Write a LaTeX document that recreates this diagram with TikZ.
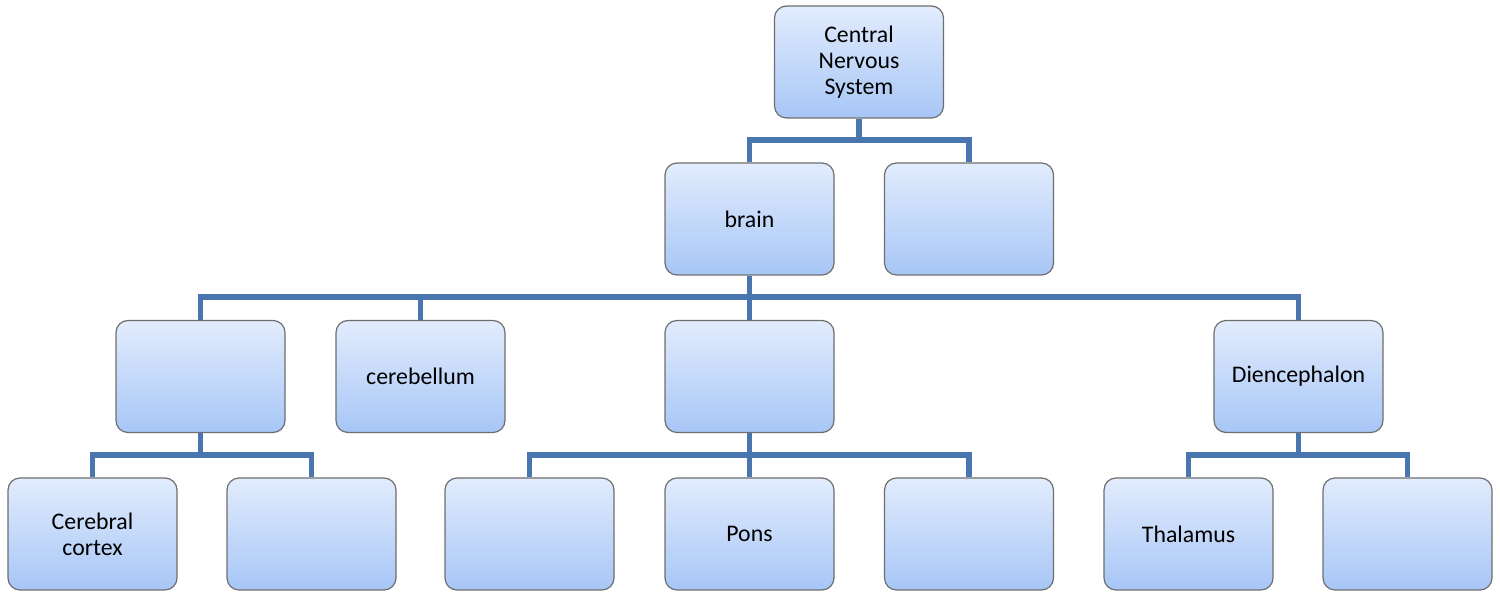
\documentclass[tikz,border=0pt]{standalone}
\usepackage{fontspec}
\setmainfont{Carlito}
\usetikzlibrary{calc}
\definecolor{linec}{HTML}{4A76B0}
\definecolor{boxtop}{HTML}{E2ECFD}
\definecolor{boxbot}{HTML}{A7C6F6}
\definecolor{boxedge}{HTML}{6E6E6E}
\begin{document}
\begin{tikzpicture}[x=0.5pt,y=-0.5pt,
  box/.style={draw=boxedge,line width=0.6pt,rounded corners=6pt,top color=boxtop,bottom color=boxbot,
    minimum width=84.5pt,minimum height=56pt,align=center,font=\fontsize{11.9pt}{13pt}\selectfont,inner sep=2pt},
  conn/.style={draw=linec,line width=2.6pt}]
\useasboundingbox (0,0) rectangle (1500,592);
% nodes
\node[box] (cns) at (859,62) {Central\\Nervous\\System};
\node[box] (brain) at (749.5,219) {brain};
\node[box] (b2) at (969,219) {};
\node[box] (l1) at (200.5,376.5) {};
\node[box] (cereb) at (420.5,376.5) {cerebellum};
\node[box] (l3) at (749.5,376.5) {};
\node[box] (dien) at (1298.5,376.5) {Diencephalon};
\node[box] (cc) at (92.5,534) {Cerebral\\cortex};
\node[box] (c2) at (311.5,534) {};
\node[box] (m1) at (529.5,534) {};
\node[box] (pons) at (749.5,534) {Pons};
\node[box] (m3) at (969,534) {};
\node[box] (thal) at (1188.5,534) {Thalamus};
\node[box] (t2) at (1407.5,534) {};
% connectors
\coordinate (y1) at (0,140);
\coordinate (y2) at (0,297);
\coordinate (y3) at (0,455);
\begin{scope}[on background layer/.try]
\foreach \c in {brain,b2} \draw[conn] (cns.south) -- (cns.south |- y1) -| (\c.north);
\foreach \c in {l1,cereb,l3,dien} \draw[conn] (brain.south) -- (brain.south |- y2) -| (\c.north);
\foreach \c in {cc,c2} \draw[conn] (l1.south) -- (l1.south |- y3) -| (\c.north);
\foreach \c in {m1,pons,m3} \draw[conn] (l3.south) -- (l3.south |- y3) -| (\c.north);
\foreach \c in {thal,t2} \draw[conn] (dien.south) -- (dien.south |- y3) -| (\c.north);
\end{scope}
\end{tikzpicture}
\end{document}
